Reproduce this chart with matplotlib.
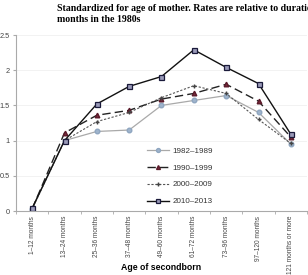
import matplotlib.pyplot as plt
import numpy as np

categories = ['1\u201312 months', '13\u201324 months', '25\u201336 months', '37\u201348 months',
              '49\u201360 months', '61\u201372 months', '73\u201396 months', '97\u2013120 months',
              '121 months or more']
s1982 = [0.03, 1.00, 1.13, 1.15, 1.50, 1.57, 1.64, 1.40, 0.95]
s1990 = [0.03, 1.11, 1.36, 1.43, 1.59, 1.67, 1.80, 1.56, 1.05]
s2000 = [0.03, 1.00, 1.27, 1.40, 1.61, 1.78, 1.67, 1.30, 0.96]
s2010 = [0.04, 1.00, 1.52, 1.77, 1.91, 2.29, 2.04, 1.81, 1.09]
yticks = [0, 0.5, 1, 1.5, 2, 2.5]

plt.rcParams['font.family'] = ['Liberation Sans', 'DejaVu Sans']

fig = plt.figure(figsize=(3.08, 2.75), dpi=100)
ax = fig.add_axes([16 / 308, 1 - 211 / 275, 291 / 308, 176 / 275])

x = np.arange(len(categories)) + 0.5
ax.plot(x, s1982, color='#a9a9a9', lw=0.9, marker='o', ms=3.3,
        mfc='#9fb4cc', mec='#8fa6c0', label='1982\u20131989')
ax.plot(x, s1990, color='#222222', lw=1.0, ls=(0, (6, 3)), marker='^', ms=3.3,
        mfc='#7a2a3a', mec='#5a1a2a', label='1990\u20131999')
ax.plot(x, s2000, color='#555555', lw=0.8, ls=(0, (2, 1.5)), marker='+', ms=3,
        mec='#444444', label='2000\u20132009')
ax.plot(x, s2010, color='#111111', lw=1.0, marker='s', ms=3.6,
        mfc='#9a9ab8', mec='#1a1a3a', mew=0.9, label='2010\u20132013')

ax.set_xlim(0, len(categories))
ax.set_ylim(0, 2.5)
ax.set_yticks(yticks)
ax.set_yticklabels(['0', '0.5', '1', '1.5', '2', '2.5'])
ax.set_xticks(x)
ax.set_xticklabels(categories, rotation=90, fontsize=4.7, color='#444444')
ax.set_xticks(np.arange(len(categories) + 1), minor=True)
ax.tick_params(axis='x', which='major', length=0, pad=3.5)
ax.tick_params(axis='x', which='minor', length=2.5, color='#aaaaaa')
ax.tick_params(axis='y', labelsize=5.3, labelcolor='#444444', length=2.5, color='#aaaaaa', pad=2)
ax.grid(axis='y', color='#f0f0f0', lw=0.6)
for s in ['top', 'right']:
    ax.spines[s].set_visible(False)
for s in ['left', 'bottom']:
    ax.spines[s].set_color('#aaaaaa')
    ax.spines[s].set_linewidth(0.8)

ax.legend(loc='lower left', bbox_to_anchor=(0.43, 0.0), frameon=False, fontsize=5.8,
          handlelength=2.8, labelspacing=1.15, borderaxespad=0.3, handletextpad=0.35,
          labelcolor='#333333', markerscale=0.85)

fig.text(161 / 308, 1 - 268 / 275, 'Age of secondborn', fontsize=6.3, fontweight='bold',
         ha='center', va='center')

fig.text(57 / 308, 1 - 4 / 275,
         'Standardized for age of mother. Rates are relative to duration 13\u201324\nmonths in the 1980s',
         fontsize=7.1, fontweight='bold', family='Liberation Serif', va='top', ha='left',
         linespacing=1.25)

fig.savefig('out.png', dpi=100)
